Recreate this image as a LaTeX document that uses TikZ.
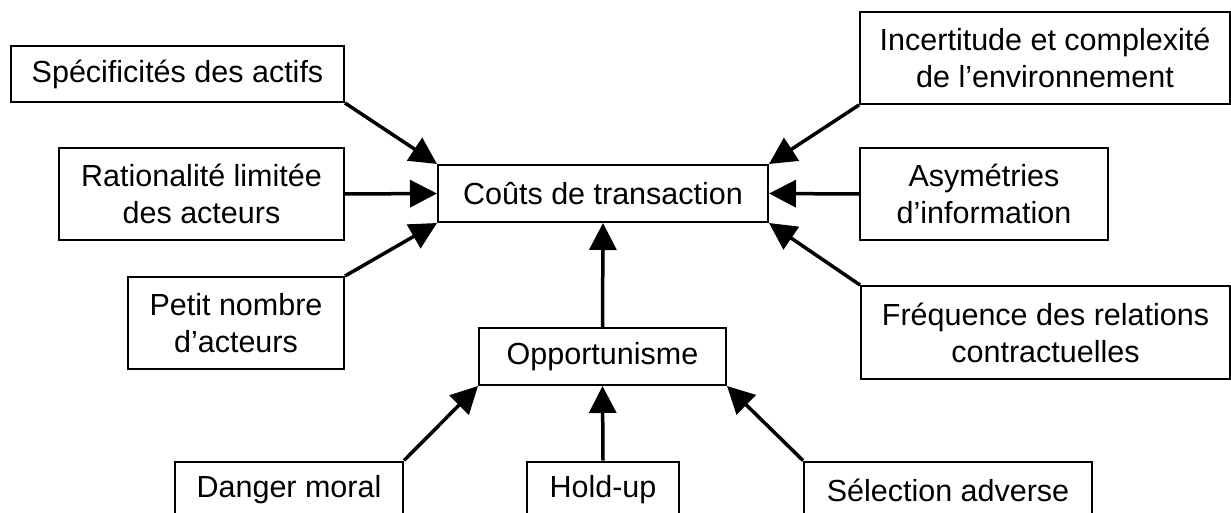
\documentclass[tikz,border=0pt]{standalone}
\usepackage{fontspec}
\setmainfont{Liberation Sans}
\usetikzlibrary{arrows.meta}
\begin{document}
\begin{tikzpicture}[x=1pt, y=-1pt]
  \tikzset{
    box/.style={draw=black, line width=2pt, fill=white, align=center, inner sep=0pt, font=\fontsize{30.5}{37}\selectfont},
    arr/.style={draw=black, line width=3.5pt, -{Triangle[length=27pt, width=27pt]}}
  }

  % Page frame, the bottom row is cut by the lower edge
  \useasboundingbox (0,0) rectangle (1231,513);
  \clip (0,0) rectangle (1231,513);

  % Central nodes
  \node[box, minimum width=330pt, minimum height=57pt] (couts) at (603,193.5) {Coûts de transaction};
  \node[box, minimum width=247pt, minimum height=57pt] (opp) at (602.5,356.5) {Opportunisme};

  % Left column
  \node[box, minimum width=333pt, minimum height=56pt] (spec) at (177.5,74) {Spécificités des actifs};
  \node[box, minimum width=285pt, minimum height=92pt] (ratio) at (201.5,194) {Rationalité limitée\\des acteurs};
  \node[box, minimum width=216pt, minimum height=92pt] (petit) at (236,323) {Petit nombre\\d’acteurs};

  % Right column
  \node[box, minimum width=370pt, minimum height=92pt] (incert) at (1045,58) {Incertitude et complexité\\de l’environnement};
  \node[box, minimum width=248pt, minimum height=92pt] (asym) at (984,194) {Asymétries\\d’information};
  \node[box, minimum width=369pt, minimum height=93pt] (freq) at (1045.5,332.5) {Fréquence des relations\\contractuelles};

  % Bottom row
  \node[box, minimum width=228pt, minimum height=57pt] (danger) at (289,490) {Danger moral};
  \node[box, minimum width=152pt, minimum height=57pt] (holdup) at (603,490) {Hold-up};
  \node[box, minimum width=288pt, minimum height=57pt] (selec) at (948,490) {Sélection adverse};

  % Arrows to the transaction costs
  \draw[arr] (spec.south east) -- (couts.north west);
  \draw[arr] (ratio.east) -- (couts.west);
  \draw[arr] (petit.north east) -- (couts.south west);
  \draw[arr] (incert.south west) -- (couts.north east);
  \draw[arr] (asym.west) -- (couts.east);
  \draw[arr] (freq.north west) -- (couts.south east);
  \draw[arr] (opp.north) -- (couts.south);

  % Arrows to opportunism
  \draw[arr] (danger.north east) -- (opp.south west);
  \draw[arr] (holdup.north) -- (opp.south);
  \draw[arr] (selec.north west) -- (opp.south east);

\end{tikzpicture}
\end{document}
